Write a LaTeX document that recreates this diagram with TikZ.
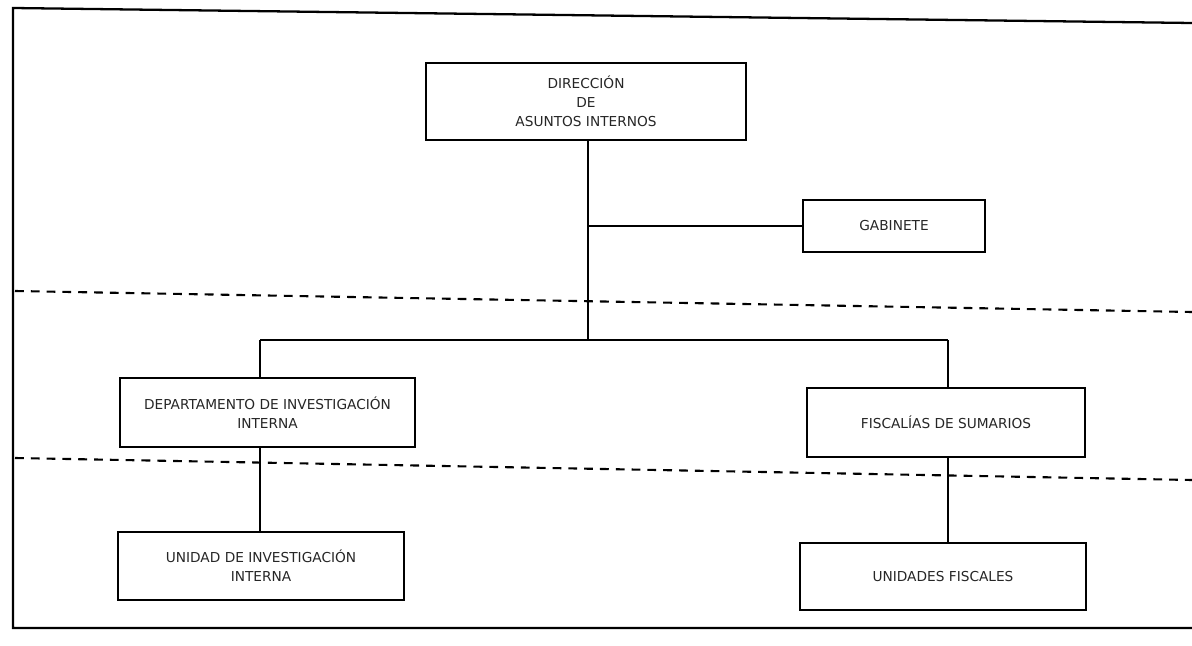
\documentclass[tikz,border=0pt]{standalone}
\usepackage{fontspec}
\setmainfont{DejaVu Sans}
\usetikzlibrary{positioning}

\begin{document}
\begin{tikzpicture}[x=0.02cm,y=-0.02cm]
            \tikzset{
            dai box/.style={draw,line width=1.1pt,align=center,inner sep=0,text=black!85,
                font=\fontsize{7.8}{10.8}\selectfont},
            dai line/.style={line width=1pt},
            dai sep/.style={line width=1.2pt,dash pattern=on 5pt off 4pt}
            }
            \useasboundingbox (0,0) rectangle (1192,645);
            % marco
            \draw[line width=1.3pt] (1192,23) -- (13,8) -- (13,628) -- (1192,628);
            % niveles
            \draw[dai sep] (15,291) -- (1192,312);
            \draw[dai sep] (15,458) -- (1192,480);

            \node[dai box,minimum width=320*0.02cm,minimum height=77*0.02cm] (dir) at (586,101.5)
                {DIRECCIÓN\\DE\\ASUNTOS INTERNOS};
            \node[dai box,minimum width=182*0.02cm,minimum height=52*0.02cm] (gab) at (894,226)
                {GABINETE};
            \node[dai box,minimum width=295*0.02cm,minimum height=69*0.02cm] (dep) at (267.5,412.5)
                {DEPARTAMENTO DE INVESTIGACIÓN\\INTERNA};
            \node[dai box,minimum width=278*0.02cm,minimum height=69*0.02cm] (fis) at (946,422.5)
                {FISCALÍAS DE SUMARIOS};
            \node[dai box,minimum width=286*0.02cm,minimum height=68*0.02cm] (uii) at (261,566)
                {UNIDAD DE INVESTIGACIÓN\\INTERNA};
            \node[dai box,minimum width=286*0.02cm,minimum height=67*0.02cm] (uf) at (943,576.5)
                {UNIDADES FISCALES};

            \coordinate (bus) at (588,340);
            \coordinate (busL) at (260,340);
            \coordinate (busR) at (948,340);

            \draw[dai line] (bus |- dir.south) -- (bus);
            \draw[dai line] (bus |- gab.west) -- (gab.west);
            \draw[dai line] (busL) -- (busR);
            \draw[dai line] (busL) -- (busL |- dep.north);
            \draw[dai line] (busR) -- (busR |- fis.north);
            \draw[dai line] (dep.south -| busL) -- (uii.north -| busL);
            \draw[dai line] (fis.south -| busR) -- (uf.north -| busR);
        \end{tikzpicture}
\end{document}
